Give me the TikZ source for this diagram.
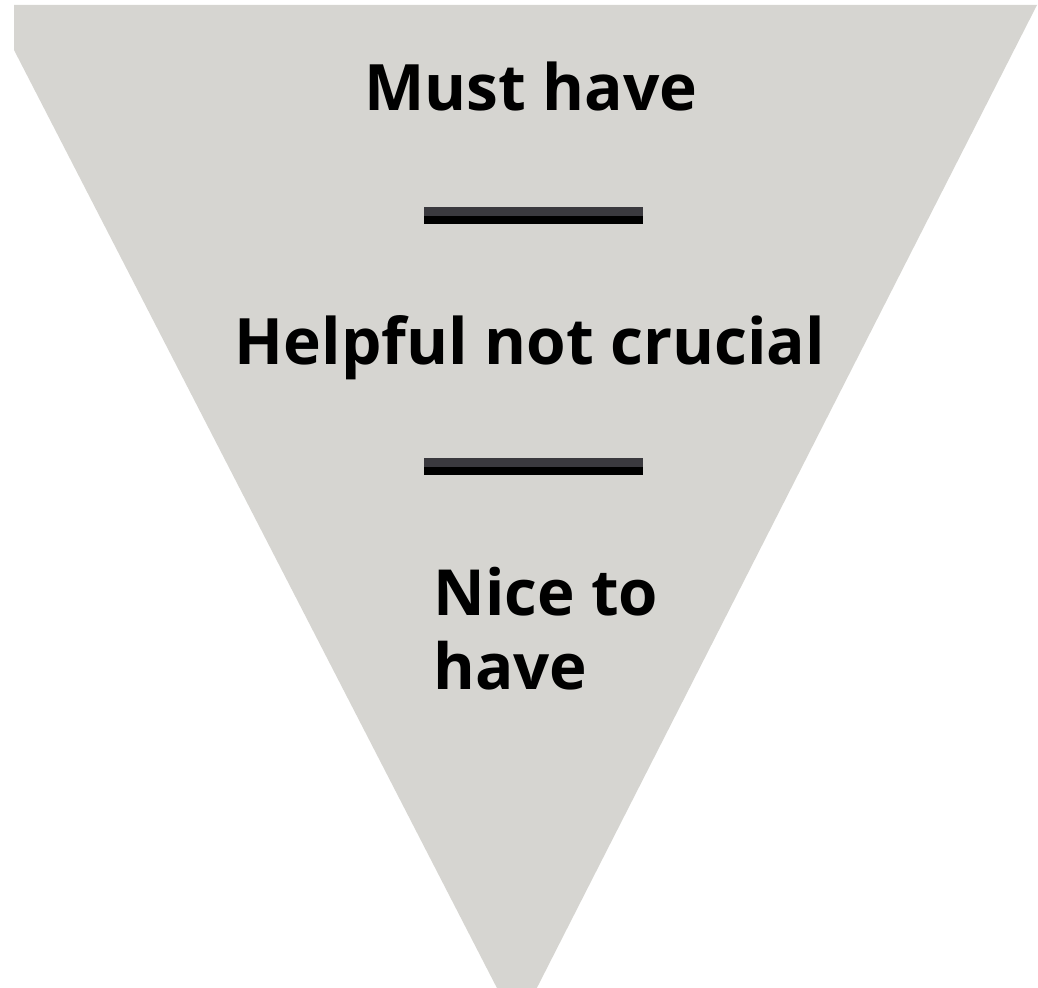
\documentclass[tikz,border=0pt]{standalone}
\usepackage{fontspec}
\setmainfont{Open Sans}
\definecolor{funnelgray}{HTML}{D6D5D1}
\definecolor{bardark}{HTML}{3A393E}
\tikzset{
  label/.style={inner sep=0pt, font=\bfseries\fontsize{32}{37}\selectfont, text=black},
  smalllabel/.style={inner sep=0pt, align=left, font=\bfseries\fontsize{31.8}{37}\selectfont, text=black},
}
\begin{document}
\begin{tikzpicture}[x=0.5pt,y=-0.5pt]
\useasboundingbox (0,0) rectangle (1038,988);
\begin{scope}
  \clip (0,0) rectangle (1038,988);
  \fill[funnelgray] (14,5) -- (1037,5) -- (517,1027) -- (14,50) -- cycle;
\end{scope}
% separator bars
\fill[bardark] (424,207) rectangle (643,216);
\fill[black] (424,216) rectangle (643,224);
\fill[bardark] (424,458) rectangle (643,467);
\fill[black] (424,467) rectangle (643,475);
% labels
\node[label, anchor=base] (must) at (531,111) {Must have};
\node[label, anchor=base] (helpful) at (530,365) {Helpful not crucial};
\node[smalllabel, anchor=base west] (nice) at (433,689) {Nice to\\have};
\end{tikzpicture}
\end{document}
